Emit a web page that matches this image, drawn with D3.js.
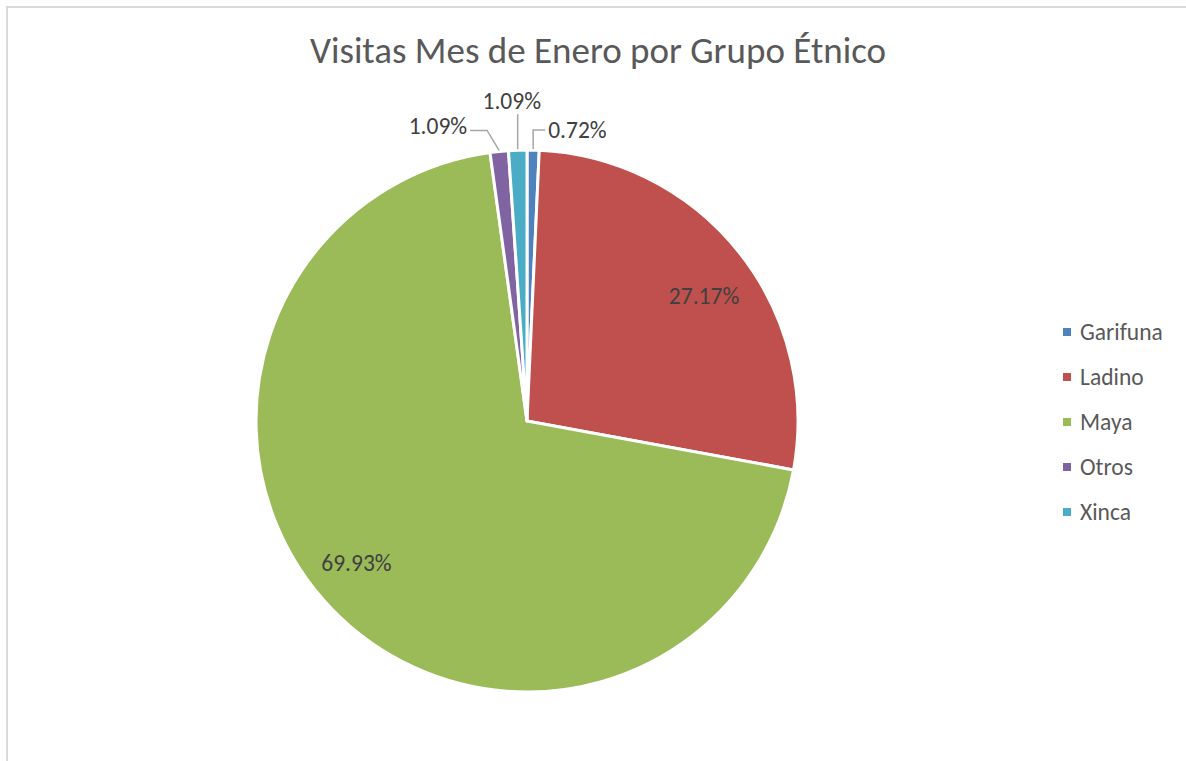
<!DOCTYPE html>
<html>
<head>
<meta charset="utf-8">
<script src="https://cdn.jsdelivr.net/npm/d3@7"></script>
<style>
  html, body { margin: 0; padding: 0; background: #fff; }
  svg { display: block; font-family: Carlito, Calibri, Lato, "Open Sans", sans-serif; }
</style>
</head>
<body>
<div id="chart"></div>
<script>
const title = 'Visitas Mes de Enero por Grupo Étnico';
const groups = ['Garifuna', 'Ladino', 'Maya', 'Otros', 'Xinca'];
const shares = [0.72, 27.17, 69.93, 1.09, 1.09];
const colors = ['#4f81bd', '#c0504d', '#9bbb59', '#8064a2', '#4bacc6'];

const width = 1186, height = 761;
const cx = 527, cy = 421, radius = 271;

const svg = d3.select('#chart').append('svg')
  .attr('width', width)
  .attr('height', height);

// chart area border
svg.append('rect')
  .attr('x', 7).attr('y', 7)
  .attr('width', width + 20).attr('height', height + 20)
  .attr('fill', '#fff')
  .attr('stroke', '#d9d9d9')
  .attr('stroke-width', 2);

svg.append('text')
  .attr('x', 598).attr('y', 63)
  .attr('text-anchor', 'middle')
  .attr('font-size', 37)
  .attr('fill', '#595959')
  .text(title);

const data = groups.map((g, i) => ({ name: g, value: shares[i], color: colors[i] }));

const pie = d3.pie().value(d => d.value).sort(null);
const arcs = pie(data);
const arc = d3.arc().innerRadius(0).outerRadius(radius);

const g = svg.append('g').attr('transform', `translate(${cx},${cy})`);

g.selectAll('path')
  .data(arcs)
  .enter()
  .append('path')
  .attr('d', arc)
  .attr('fill', d => d.data.color)
  .attr('stroke', '#fff')
  .attr('stroke-width', 3)
  .attr('stroke-linejoin', 'round');

const labelSize = 23.5;

// labels inside the big slices
const inner = { Ladino: 0.83, Maya: 0.84 };
const innerShift = { Ladino: [1, 15], Maya: [-6, -15] };
arcs.filter(d => inner[d.data.name]).forEach(d => {
  const a = (d.startAngle + d.endAngle) / 2;
  const r = radius * inner[d.data.name];
  const s = innerShift[d.data.name];
  g.append('text')
    .attr('x', Math.sin(a) * r + s[0])
    .attr('y', -Math.cos(a) * r + s[1])
    .attr('text-anchor', 'middle')
    .attr('dominant-baseline', 'central')
    .attr('font-size', labelSize)
    .attr('fill', '#404040')
    .text(d.data.value.toFixed(2) + '%');
});

// labels outside the thin slices, with leader lines
const outside = {
  Garifuna: { elbow: [0, -19], end: [12, -19], anchor: 'start', tx: 3, ty: 0 },
  Xinca: { elbow: [0, -18], end: [0, -35], anchor: 'middle', tx: -6, ty: -13 },
  Otros: { elbow: [-12, -20], end: [-29, -20], anchor: 'end', tx: -3, ty: -4 }
};
arcs.filter(d => outside[d.data.name]).forEach(d => {
  const o = outside[d.data.name];
  const a = (d.startAngle + d.endAngle) / 2;
  const x0 = Math.sin(a) * (radius + 1), y0 = -Math.cos(a) * (radius + 1);
  const pts = [[x0, y0], [x0 + o.elbow[0], y0 + o.elbow[1]], [x0 + o.end[0], y0 + o.end[1]]];
  g.append('path')
    .attr('d', d3.line()(pts))
    .attr('fill', 'none')
    .attr('stroke', '#a6a6a6')
    .attr('stroke-width', 1.5);
  g.append('text')
    .attr('x', pts[2][0] + o.tx)
    .attr('y', pts[2][1] + o.ty)
    .attr('text-anchor', o.anchor)
    .attr('dominant-baseline', 'central')
    .attr('font-size', labelSize)
    .attr('fill', '#404040')
    .text(d.data.value.toFixed(2) + '%');
});

// legend
const legend = svg.append('g').attr('transform', 'translate(1063,332)');
const row = legend.selectAll('g')
  .data(data)
  .enter()
  .append('g')
  .attr('transform', (d, i) => `translate(0,${i * 45})`);
row.append('rect')
  .attr('x', 0).attr('y', -4)
  .attr('width', 8).attr('height', 8)
  .attr('fill', d => d.color);
row.append('text')
  .attr('x', 17).attr('y', 0)
  .attr('dominant-baseline', 'central')
  .attr('font-size', 23.5)
  .attr('fill', '#595959')
  .text(d => d.name);
</script>
</body>
</html>
